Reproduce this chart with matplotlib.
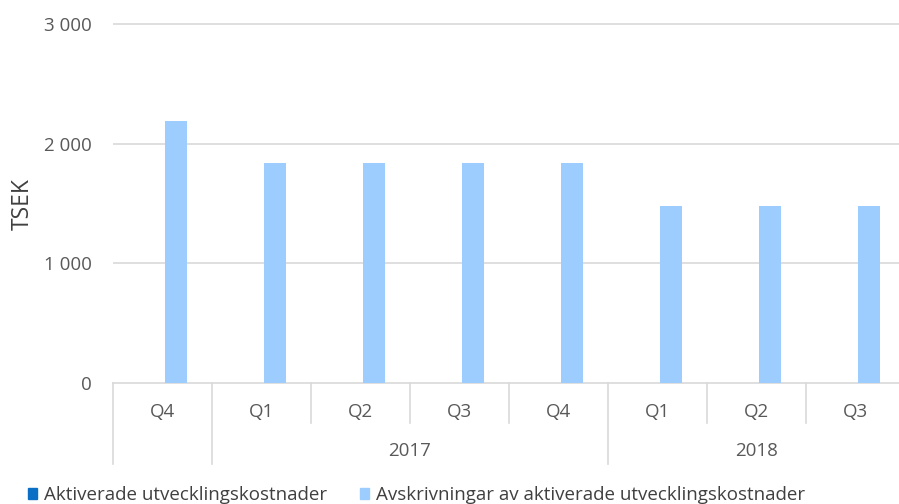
import matplotlib
matplotlib.use("Agg")
import matplotlib.pyplot as plt
import matplotlib.transforms as mtransforms
from matplotlib.patches import Patch

plt.rcParams['font.family'] = ['Open Sans', 'DejaVu Sans']

quarters = ["Q4", "Q1", "Q2", "Q3", "Q4", "Q1", "Q2", "Q3"]
years = ["", "2017", "2017", "2017", "2017", "2018", "2018", "2018"]
aktiverade = [0, 0, 0, 0, 0, 0, 0, 0]
avskrivningar = [2190, 1837, 1837, 1837, 1837, 1480, 1480, 1480]
series_names = ["Aktiverade utvecklingskostnader",
                "Avskrivningar av aktiverade utvecklingskostnader"]
yticks = [0, 1000, 2000, 3000]
ytick_labels = ["0", "1 000", "2 000", "3 000"]

W, H = 899, 504
fig = plt.figure(figsize=(W / 100, H / 100), dpi=100)

# pixel geometry
left_px, right_px = 113, 905
zero_px, top_grid_px, ax_top_px = 383, 24, 18
ymax = 3000 * (zero_px - ax_top_px) / (zero_px - top_grid_px)
ax = fig.add_axes([left_px / W, (H - zero_px) / H,
                   (right_px - left_px) / W, (zero_px - ax_top_px) / H])

dark = "#0B6FC6"
light = "#9DCCFF"
grid_c = "#D9D9D9"
text_c = "#595959"
fs = 13.5

n = len(quarters)
xs = list(range(n))
bw = 0.225
ax.bar([x - 0.025 - bw / 2 for x in xs], aktiverade, width=bw, color=dark, zorder=3)
ax.bar([x + 0.025 + bw / 2 for x in xs], avskrivningar, width=bw, color=light, zorder=3)

ax.set_xlim(-0.5, n - 0.5)
ax.set_ylim(0, ymax)
ax.set_yticks(yticks)
ax.set_yticklabels(ytick_labels, color=text_c, fontsize=fs)
ax.tick_params(axis='y', length=0, pad=15.5)
ax.set_xticks([])
for y in yticks[1:]:
    ax.axhline(y, color=grid_c, lw=1.2, zorder=1)
for s in ["top", "right", "left"]:
    ax.spines[s].set_visible(False)
ax.spines["bottom"].set_color(grid_c)
ax.spines["bottom"].set_linewidth(1.2)

ax.set_ylabel("TSEK", fontsize=16.5, color="#404040")
ax.yaxis.set_label_coords((35 - left_px) / (right_px - left_px),
                          (zero_px - 204.5) / (zero_px - ax_top_px))

trans = mtransforms.blended_transform_factory(ax.transData, fig.transFigure)

def fy(px):
    return (H - px) / H

# quarter labels
for x, q in zip(xs, quarters):
    ax.text(x, fy(412), q, transform=trans, ha='center', va='center',
            fontsize=fs, color=text_c)

# year groups
groups = []
for i, yv in enumerate(years):
    if groups and groups[-1][0] == yv:
        groups[-1][2] = i
    else:
        groups.append([yv, i, i])
for yv, a, b in groups:
    if yv:
        ax.text((a + b) / 2, fy(451), yv, transform=trans, ha='center',
                va='center', fontsize=fs, color=text_c)

# separators
group_starts = {a for _, a, _ in groups}
for i in range(n + 1):
    xb = i - 0.5
    long = i in group_starts or i == n
    y_end = 464 if long else 423
    ax.plot([xb, xb], [fy(zero_px), fy(y_end)], transform=trans,
            color=grid_c, lw=1.2, clip_on=False)

handles = [Patch(color=dark), Patch(color=light)]
fig.legend(handles, series_names, loc='center left',
           bbox_to_anchor=(28 / W, fy(495)), ncol=2, frameon=False,
           fontsize=fs, handlelength=0.48, handleheight=0.48,
           handletextpad=0.37, columnspacing=1.75, labelcolor="#404040",
           borderpad=0, borderaxespad=0)

fig.savefig("out.png", dpi=100)
